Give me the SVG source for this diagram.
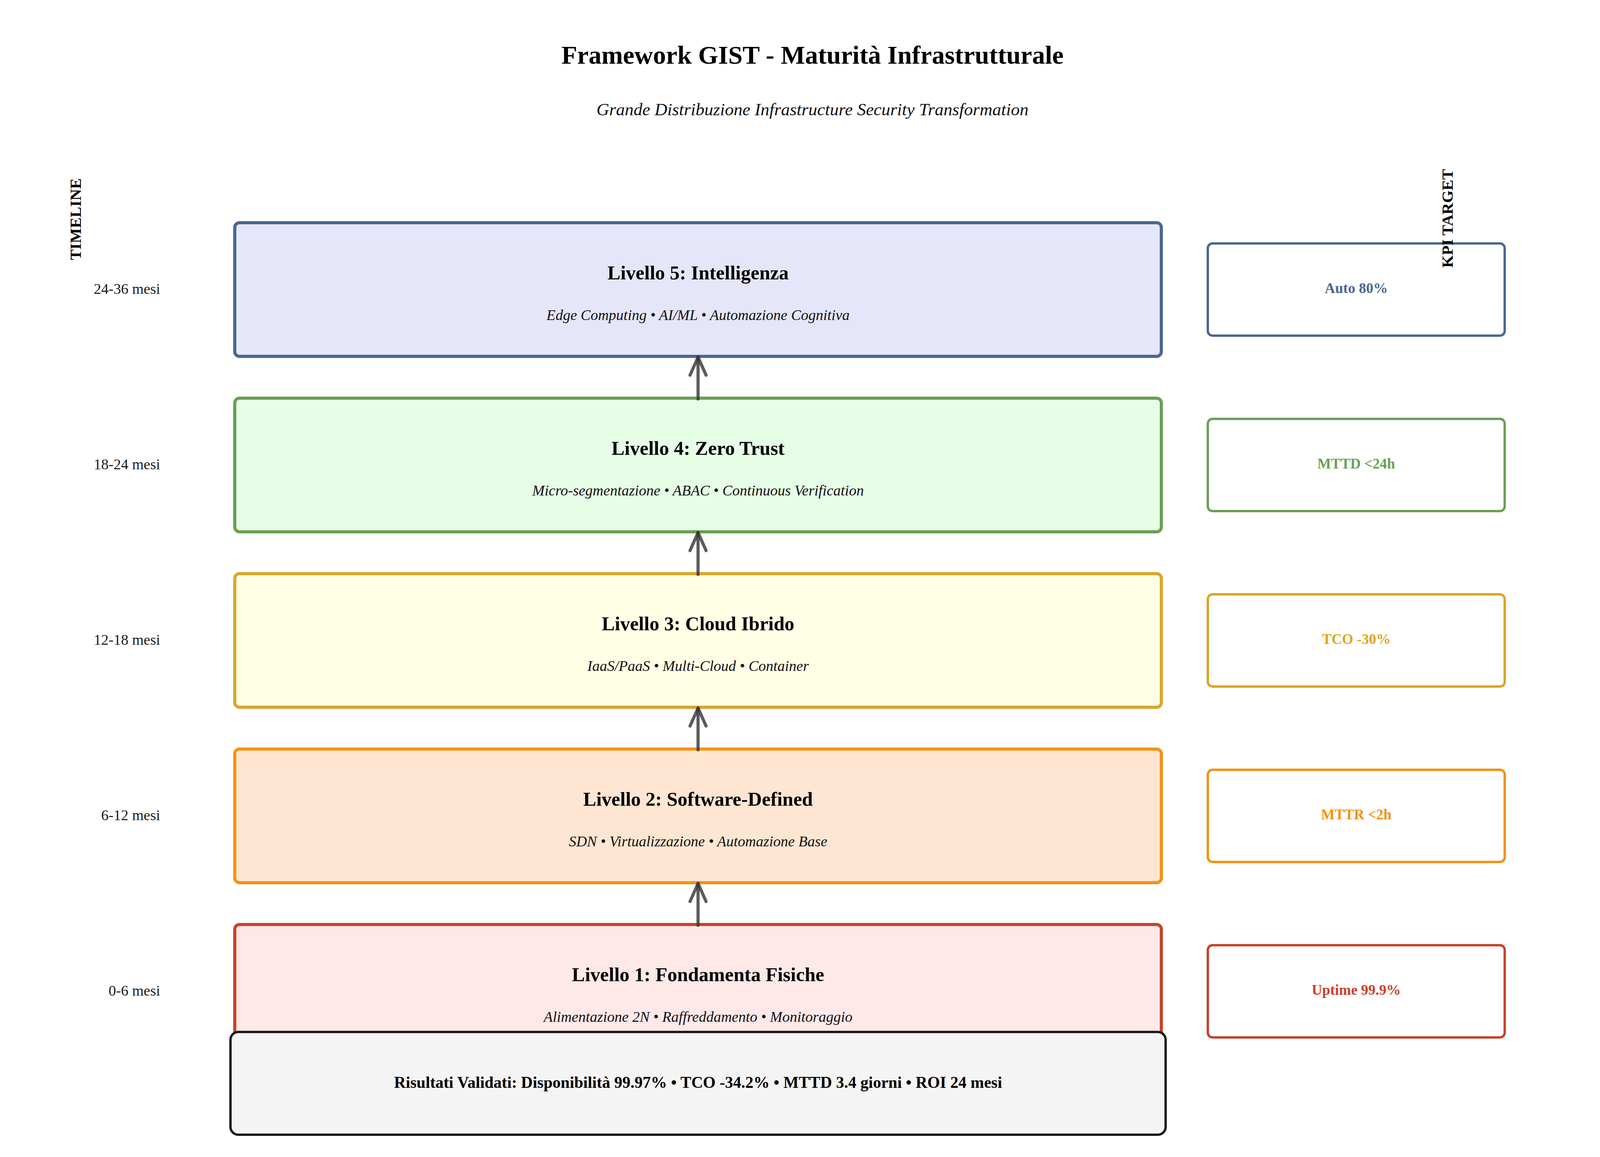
<svg xmlns="http://www.w3.org/2000/svg" width="4161" height="2961" viewBox="0 0 4161 2961">
<defs>
<style>
text{font-family:"Liberation Serif","Times New Roman",serif;}
.title{font-size:66px;font-weight:bold;fill:#000;text-anchor:middle;}
.subtitle{font-size:45px;font-style:italic;fill:#111;text-anchor:middle;}
.side{font-size:41px;font-weight:bold;fill:#000;text-anchor:middle;}
.tl{font-size:38px;fill:#1a1a1a;text-anchor:end;}
.lvl{stroke-width:8;}
.lt{font-size:50px;font-weight:bold;fill:#000;text-anchor:middle;}
.ls{font-size:38px;font-style:italic;fill:#111;text-anchor:middle;}
.kpi{fill:#fff;stroke-width:6;}
.kt{font-size:37px;font-weight:bold;text-anchor:middle;}
.conn{stroke:#333;stroke-opacity:0.8;stroke-width:8;stroke-linecap:round;fill:none;}
</style>
<marker id="ah" markerUnits="userSpaceOnUse" viewBox="-60 -30 70 60" refX="0" refY="0" markerWidth="70" markerHeight="60" orient="auto" overflow="visible">
<path d="M -46 -20.5 L 0 0 L -46 20.5" fill="none" stroke="#333" stroke-opacity="0.8" stroke-width="8" stroke-linecap="round" stroke-linejoin="round"/>
</marker>
</defs>
<rect x="0" y="0" width="4161" height="2961" fill="#fff"/>
<text class="title" x="2080" y="163">Framework GIST - Maturità Infrastrutturale</text>
<text class="subtitle" x="2080" y="295">Grande Distribuzione Infrastructure Security Transformation</text>

<g id="level5">
<rect class="lvl" x="601" y="570" width="2372" height="342" rx="12" fill="#e6e6fa" stroke="#4a6790"/>
<text class="lt" x="1787" y="715">Livello 5: Intelligenza</text>
<text class="ls" x="1787" y="819">Edge Computing • AI/ML • Automazione Cognitiva</text>
</g>
<g id="level4">
<rect class="lvl" x="601" y="1019" width="2372" height="342" rx="12" fill="#e6fde6" stroke="#6a9f54"/>
<text class="lt" x="1787" y="1164">Livello 4: Zero Trust</text>
<text class="ls" x="1787" y="1268">Micro-segmentazione • ABAC • Continuous Verification</text>
</g>
<g id="level3">
<rect class="lvl" x="601" y="1468" width="2372" height="342" rx="12" fill="#ffffe6" stroke="#daa72a"/>
<text class="lt" x="1787" y="1613">Livello 3: Cloud Ibrido</text>
<text class="ls" x="1787" y="1717">IaaS/PaaS • Multi-Cloud • Container</text>
</g>
<g id="level2">
<rect class="lvl" x="601" y="1917" width="2372" height="342" rx="12" fill="#ffe6d2" stroke="#f29415"/>
<text class="lt" x="1787" y="2062">Livello 2: Software-Defined</text>
<text class="ls" x="1787" y="2166">SDN • Virtualizzazione • Automazione Base</text>
</g>
<g id="level1">
<rect class="lvl" x="601" y="2366" width="2372" height="342" rx="12" fill="#ffe8e8" stroke="#c9432b"/>
<text class="lt" x="1787" y="2511">Livello 1: Fondamenta Fisiche</text>
<text class="ls" x="1787" y="2615">Alimentazione 2N • Raffreddamento • Monitoraggio</text>
</g>

<g id="timeline">
<text class="tl" x="410" y="752">24-36 mesi</text>
<text class="tl" x="410" y="1201">18-24 mesi</text>
<text class="tl" x="410" y="1650">12-18 mesi</text>
<text class="tl" x="410" y="2099">6-12 mesi</text>
<text class="tl" x="410" y="2548">0-6 mesi</text>
</g>

<g id="kpi5">
<rect class="kpi" x="3092" y="623" width="760" height="236" rx="12" stroke="#4a6790"/>
<text class="kt" x="3472" y="750" fill="#4a6790">Auto 80%</text>
</g>
<g id="kpi4">
<rect class="kpi" x="3092" y="1072" width="760" height="236" rx="12" stroke="#6a9f54"/>
<text class="kt" x="3472" y="1199" fill="#6a9f54">MTTD &lt;24h</text>
</g>
<g id="kpi3">
<rect class="kpi" x="3092" y="1521" width="760" height="236" rx="12" stroke="#daa520"/>
<text class="kt" x="3472" y="1648" fill="#daa520">TCO -30%</text>
</g>
<g id="kpi2">
<rect class="kpi" x="3092" y="1970" width="760" height="236" rx="12" stroke="#f29111"/>
<text class="kt" x="3472" y="2097" fill="#f29111">MTTR &lt;2h</text>
</g>
<g id="kpi1">
<rect class="kpi" x="3092" y="2419" width="760" height="236" rx="12" stroke="#c9402a"/>
<text class="kt" x="3472" y="2546" fill="#c9402a">Uptime 99.9%</text>
</g>

<g id="connectors">
<line class="conn" x1="1787" y1="1021" x2="1787" y2="914" marker-end="url(#ah)"/>
<line class="conn" x1="1787" y1="1470" x2="1787" y2="1363" marker-end="url(#ah)"/>
<line class="conn" x1="1787" y1="1919" x2="1787" y2="1812" marker-end="url(#ah)"/>
<line class="conn" x1="1787" y1="2368" x2="1787" y2="2261" marker-end="url(#ah)"/>
</g>

<g id="results">
<rect x="590" y="2641" width="2394" height="263" rx="20" fill="#f4f4f4" stroke="#1a1a1a" stroke-width="6"/>
<text x="1787" y="2784" font-size="41.5" font-weight="bold" fill="#000" text-anchor="middle">Risultati Validati: Disponibilità 99.97% • TCO -34.2% • MTTD 3.4 giorni • ROI 24 mesi</text>
</g>

<text class="side" transform="translate(207,561) rotate(-90)">TIMELINE</text>
<text class="side" transform="translate(3719,559) rotate(-90)">KPI TARGET</text>
</svg>
